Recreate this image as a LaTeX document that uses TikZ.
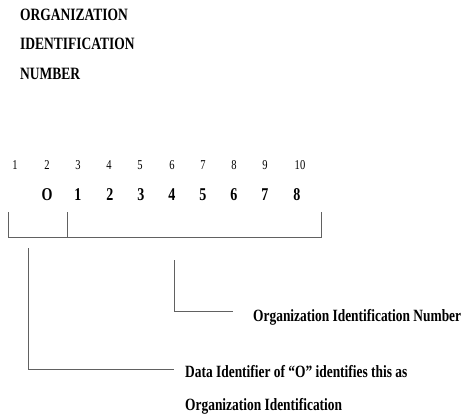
\documentclass[tikz,border=0pt]{standalone}
\usepackage{fontspec}
\setmainfont{Liberation Serif}
\newfontfamily\tallfont{Liberation Serif}[FakeStretch=0.78]
\usetikzlibrary{positioning}

\begin{document}
\begin{tikzpicture}[x=1pt,y=-1pt]
  \definecolor{kLine}{rgb}{0.38,0.38,0.38}
  \tikzset{
    head/.style={anchor=base west,inner sep=0pt,font=\tallfont\bfseries\fontsize{17.3}{20}\selectfont},
    posnum/.style={anchor=base,inner sep=0pt,font=\tallfont\fontsize{13.5}{15}\selectfont},
    digit/.style={anchor=base,inner sep=0pt,font=\tallfont\bfseries\fontsize{18}{21}\selectfont},
    note/.style={anchor=base west,inner sep=0pt,font=\tallfont\bfseries\fontsize{17.2}{20}\selectfont},
    bracket/.style={color=kLine,line width=0.9pt}
  }
  \useasboundingbox (0,0) rectangle (466,416);

  % heading
  \node[head] (h1) at (20,20) {ORGANIZATION};
  \node[head] (h2) at (20,49) {IDENTIFICATION};
  \node[head] (h3) at (20,79) {NUMBER};

  % positions
  \foreach \n/\x in {1/15,2/47,3/78,4/109,5/140,6/172,7/203,8/234,9/265,10/300}
  {
    \node[posnum] (p\n) at (\x,169) {\n};
  }

  % number
  \foreach \n/\x/\c in {2/47/O,3/78/1,4/110/2,5/141/3,6/172/4,7/203/5,8/234/6,9/265/7,10/297/8}
  {
    \node[digit] (d\n) at (\x,200) {\c};
  }

  % bracket
  \coordinate (bl) at (8,212);
  \coordinate (bm) at (67,212);
  \coordinate (br) at (321,212);
  \draw[bracket] (bl) |- (br |- 0,237) -- (br);
  \draw[bracket] (bm) -- (bm |- 0,237);

  % leaders
  \node[note] (num) at (253,321) {Organization Identification Number};
  \node[note] (dat) at (185,377) {Data Identifier of \textquotedblleft O\textquotedblright\ identifies this as};
  \node[note] (dat2) at (185,410) {Organization Identification};

  \coordinate (ntop) at (174,260);
  \coordinate (nend) at (233,311);
  \coordinate (dtop) at (28,248);
  \coordinate (dend) at (174,369);
  \draw[bracket] (ntop) |- (nend);
  \draw[bracket] (dtop) |- (dend);
\end{tikzpicture}
\end{document}
